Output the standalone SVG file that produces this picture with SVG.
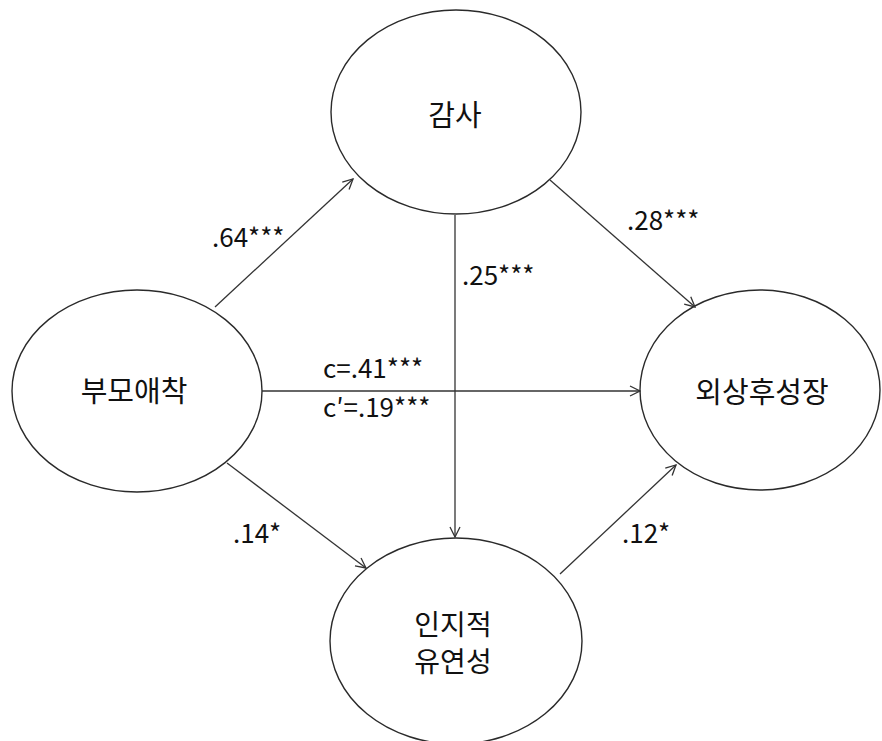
<svg xmlns="http://www.w3.org/2000/svg" width="882" height="741" viewBox="0 0 882 741">
<style>
.node ellipse{fill:#fff;stroke:#2a2a2a;stroke-width:1.4}
.node text{font-family:"Noto Sans CJK KR","Noto Sans",sans-serif;font-size:29px;fill:#111;text-anchor:middle;dominant-baseline:central}
.edges line{stroke:#333;stroke-width:1.3;marker-end:url(#arr)}
.lbl{font-family:"Noto Sans CJK KR","Noto Sans",sans-serif;font-size:26px;fill:#111}
</style>
<defs>
<marker id="arr" viewBox="0 0 12 12" refX="11" refY="6" markerWidth="12" markerHeight="12" markerUnits="userSpaceOnUse" orient="auto">
<path d="M1,1 L11,6 L1,11" fill="none" stroke="#333" stroke-width="1.3"/>
</marker>
</defs>
<rect width="882" height="741" fill="#fff"/>
<g id="gamsa" class="node">
<ellipse cx="456" cy="112" rx="125" ry="102"/>
<text x="455" y="113">감사</text>
</g>
<g id="bumo" class="node">
<ellipse cx="137" cy="391" rx="125" ry="101"/>
<text x="134" y="389">부모애착</text>
</g>
<g id="oesang" class="node">
<ellipse cx="760" cy="390" rx="120" ry="100"/>
<text x="762" y="390">외상후성장</text>
</g>
<g id="inji" class="node">
<ellipse cx="456" cy="641" rx="126" ry="103"/>
<text x="453" y="623" style="font-size:28px">인지적</text>
<text x="453" y="660" style="font-size:28px">유연성</text>
</g>
<g class="edges">
<line x1="215" y1="307" x2="353" y2="179"/>
<line x1="550" y1="180" x2="695" y2="307"/>
<line x1="455" y1="215" x2="455" y2="537"/>
<line x1="262" y1="391" x2="640" y2="391"/>
<line x1="227" y1="463" x2="366" y2="568"/>
<line x1="560" y1="574" x2="676" y2="465"/>
</g>
<g id="labels">
<text class="lbl" x="212" y="247">.64***</text>
<text class="lbl" x="627" y="230">.28***</text>
<text class="lbl" x="462" y="285">.25***</text>
<text class="lbl" x="323" y="378">c=.41***</text>
<text class="lbl" x="323" y="417">c′=.19***</text>
<text class="lbl" x="233" y="543">.14*</text>
<text class="lbl" x="622" y="543">.12*</text>
</g>
</svg>
